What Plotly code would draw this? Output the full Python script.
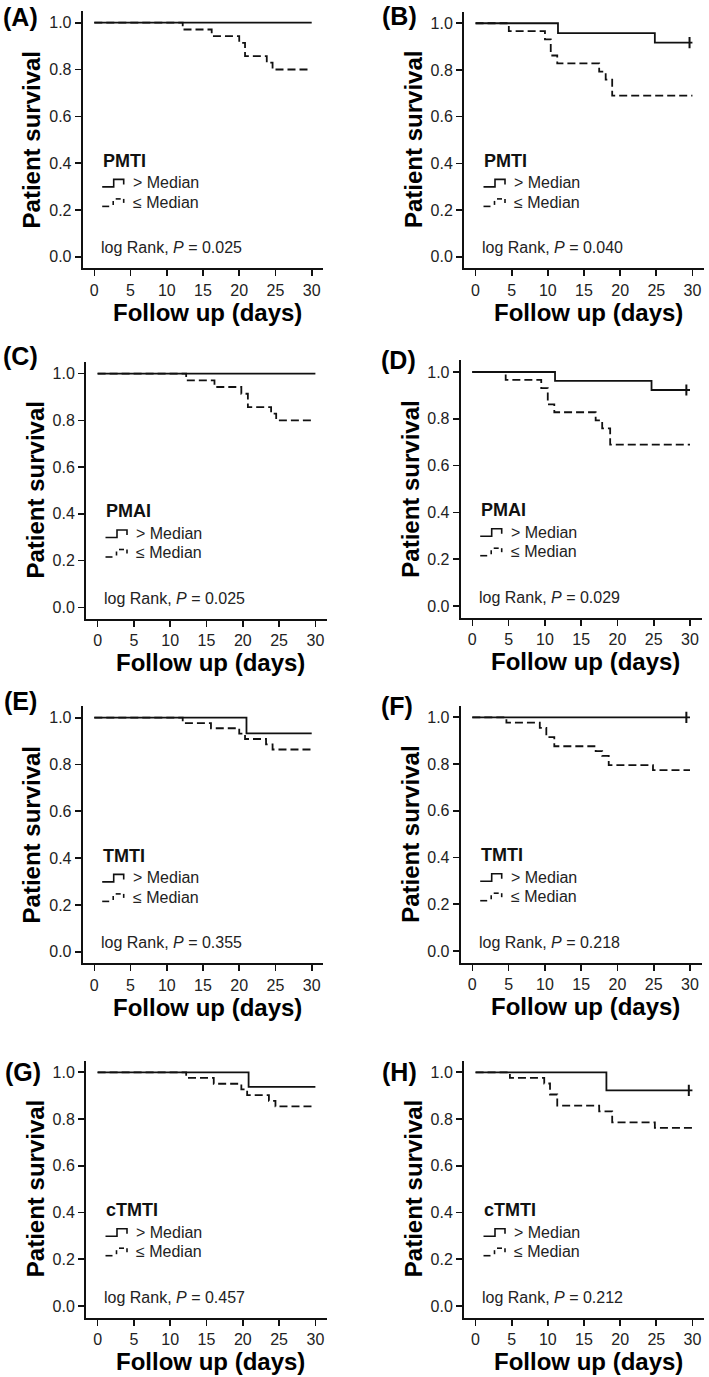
"""
Curvas de supervivencia Kaplan-Meier (8 paneles) con Plotly
"""

import plotly.graph_objects as go

W, H = 709, 1377
FONT = "Arial, Liberation Sans, Helvetica, sans-serif"

# ---- Datos (tiempo en días, supervivencia) ----
# (A) PMTI
a_high_t = [0, 30]
a_high_s = [1.0, 1.0]
a_low_t = [0, 12.2, 16.2, 20.0, 20.8, 23.8, 24.6, 29.7]
a_low_s = [1.0, 0.971, 0.943, 0.914, 0.857, 0.829, 0.800, 0.800]

# (B) PMTI
b_high_t = [0, 11.4, 24.8, 30]
b_high_s = [1.0, 0.958, 0.917, 0.917]
b_high_cens = [29.6]
b_low_t = [0, 4.6, 9.6, 10.4, 11.3, 17.1, 18.0, 18.9, 30]
b_low_s = [1.0, 0.966, 0.931, 0.862, 0.828, 0.793, 0.759, 0.690, 0.690]

# (C) PMAI
c_high_t = [0, 30]
c_high_s = [1.0, 1.0]
c_low_t = [0, 12.2, 16.1, 19.8, 20.7, 23.9, 24.6, 29.8]
c_low_s = [1.0, 0.971, 0.943, 0.914, 0.857, 0.829, 0.800, 0.800]

# (D) PMAI
d_high_t = [0, 11.4, 24.7, 30]
d_high_s = [1.0, 0.962, 0.923, 0.923]
d_high_cens = [29.5]
d_low_t = [0, 4.6, 9.5, 10.4, 11.3, 17.0, 17.9, 19.0, 30]
d_low_s = [1.0, 0.966, 0.931, 0.862, 0.828, 0.793, 0.759, 0.690, 0.690]

# (E) TMTI
e_high_t = [0, 21.0, 30]
e_high_s = [1.0, 0.933, 0.933]
e_low_t = [0, 12.2, 16.1, 20.0, 20.8, 23.7, 24.6, 30]
e_low_s = [1.0, 0.977, 0.955, 0.932, 0.909, 0.886, 0.864, 0.864]

# (F) TMTI
f_high_t = [0, 30]
f_high_s = [1.0, 1.0]
f_high_cens = [29.5]
f_low_t = [0, 4.7, 9.3, 10.2, 11.3, 17.0, 17.9, 18.8, 24.9, 30]
f_low_s = [1.0, 0.977, 0.955, 0.915, 0.876, 0.855, 0.835, 0.795, 0.774, 0.774]

# (G) cTMTI
g_high_t = [0, 20.8, 30]
g_high_s = [1.0, 0.938, 0.938]
g_low_t = [0, 12.2, 16.0, 19.8, 20.6, 23.6, 24.5, 30]
g_low_s = [1.0, 0.976, 0.951, 0.927, 0.902, 0.878, 0.854, 0.854]

# (H) cTMTI
h_high_t = [0, 18.1, 30]
h_high_s = [1.0, 0.923, 0.923]
h_high_cens = [29.5]
h_low_t = [0, 4.75, 9.5, 10.3, 11.3, 17.1, 18.9, 24.8, 30]
h_low_s = [1.0, 0.976, 0.952, 0.905, 0.857, 0.833, 0.786, 0.762, 0.762]

panel_labels = ["(A)", "(B)", "(C)", "(D)", "(E)", "(F)", "(G)", "(H)"]
group_names = ["PMTI", "PMTI", "PMAI", "PMAI", "TMTI", "TMTI", "cTMTI", "cTMTI"]
p_values = ["0.025", "0.040", "0.025", "0.029", "0.355", "0.218", "0.457", "0.212"]
x_ticks = [0, 5, 10, 15, 20, 25, 30]
y_ticks = [0.0, 0.2, 0.4, 0.6, 0.8, 1.0]
legend_labels = ["> Median", "\u2264 Median"]

series = [
    (a_high_t, a_high_s, [], a_low_t, a_low_s),
    (b_high_t, b_high_s, b_high_cens, b_low_t, b_low_s),
    (c_high_t, c_high_s, [], c_low_t, c_low_s),
    (d_high_t, d_high_s, d_high_cens, d_low_t, d_low_s),
    (e_high_t, e_high_s, [], e_low_t, e_low_s),
    (f_high_t, f_high_s, f_high_cens, f_low_t, f_low_s),
    (g_high_t, g_high_s, [], g_low_t, g_low_s),
    (h_high_t, h_high_s, h_high_cens, h_low_t, h_low_s),
]

# Marco de cada panel en píxeles: izquierda, derecha, arriba, abajo, etiqueta (x, y)
frames = [
    dict(L=82.7, R=323.3, T=11.0, B=268.4, lx=20.8, ly=17.0),
    dict(L=464.0, R=704.0, T=11.6, B=268.4, lx=399.0, ly=16.5),
    dict(L=86.0, R=327.0, T=362.0, B=619.0, lx=20.8, ly=355.7),
    dict(L=460.7, R=701.6, T=360.3, B=617.7, lx=398.0, ly=360.0),
    dict(L=82.7, R=323.3, T=706.0, B=963.4, lx=20.8, ly=700.7),
    dict(L=460.7, R=701.6, T=705.6, B=962.7, lx=397.3, ly=705.7),
    dict(L=86.0, R=327.0, T=1060.6, B=1317.7, lx=22.5, ly=1071.7),
    dict(L=464.0, R=704.0, T=1060.6, B=1317.7, lx=399.0, ly=1071.7),
]

XR = [-1.6, 31.6]
YR = [-0.05, 1.05]


def px(x):
    return x / W


def py(y):
    return 1 - y / H


fig = go.Figure()
layout = {}
annotations = []
shapes = []

line_kw = dict(type="path", xref="paper", yref="paper", line=dict(color="#111", width=1.6))

for i, (fr, (ht, hs, hc, lt, ls)) in enumerate(zip(frames, series)):
    n = i + 1
    xa = "x" if n == 1 else f"x{n}"
    ya = "y" if n == 1 else f"y{n}"

    # Curva <= mediana (discontinua)
    fig.add_trace(go.Scatter(
        x=lt, y=ls, xaxis=xa, yaxis=ya, mode="lines", line_shape="hv",
        line=dict(color="#111", width=1.8, dash="8px,4px"), showlegend=False
    ))
    # Curva > mediana (continua)
    fig.add_trace(go.Scatter(
        x=ht, y=hs, xaxis=xa, yaxis=ya, mode="lines", line_shape="hv",
        line=dict(color="#111", width=1.8), showlegend=False
    ))
    # Censuras
    if hc:
        fig.add_trace(go.Scatter(
            x=hc, y=[hs[-1]] * len(hc), xaxis=xa, yaxis=ya, mode="markers",
            marker=dict(symbol="line-ns", size=8, line=dict(color="#111", width=2)),
            showlegend=False
        ))

    axis_common = dict(
        showline=True, linecolor="#111", linewidth=2, ticks="outside",
        ticklen=6, tickwidth=1.6, tickcolor="#111", showgrid=False, zeroline=False,
        tickfont=dict(family=FONT, size=16, color="#222"), fixedrange=True
    )
    layout[f"xaxis{'' if n == 1 else n}"] = dict(
        axis_common, domain=[px(fr["L"]), px(fr["R"])], range=XR,
        tickvals=x_ticks, anchor=ya
    )
    layout[f"yaxis{'' if n == 1 else n}"] = dict(
        axis_common, domain=[py(fr["B"]), py(fr["T"])], range=YR,
        tickvals=y_ticks, ticktext=[f"{v:.1f}" for v in y_ticks], anchor=xa
    )

    L, B, T = fr["L"], fr["B"], fr["T"]

    # Etiqueta del panel
    annotations.append(dict(
        x=px(fr["lx"]), y=py(fr["ly"]), xref="paper", yref="paper",
        text=f"<b>{panel_labels[i]}</b>", showarrow=False,
        font=dict(family=FONT, size=25, color="#000"), xanchor="center", yanchor="middle"
    ))
    # Títulos de ejes
    annotations.append(dict(
        x=px(L + 124.5), y=py(B + 44), xref="paper", yref="paper",
        text="<b>Follow up (days)</b>", showarrow=False,
        font=dict(family=FONT, size=24, color="#000"), xanchor="center", yanchor="middle"
    ))
    annotations.append(dict(
        x=px(L - 51), y=py((T + B) / 2), xref="paper", yref="paper",
        text="<b>Patient survival</b>", showarrow=False, textangle=-90,
        font=dict(family=FONT, size=24, color="#000"), xanchor="center", yanchor="middle"
    ))
    # Leyenda interna
    annotations.append(dict(
        x=px(L + 18), y=py(B - 107.5), xref="paper", yref="paper",
        text=f"<b>{group_names[i]}</b>", showarrow=False,
        font=dict(family=FONT, size=18, color="#111"), xanchor="left", yanchor="middle"
    ))
    for k, lab in enumerate(legend_labels):
        annotations.append(dict(
            x=px(L + 48), y=py(B - 85.5 + 19.5 * k), xref="paper", yref="paper",
            text=lab, showarrow=False,
            font=dict(family=FONT, size=16, color="#222"), xanchor="left", yanchor="middle"
        ))
    annotations.append(dict(
        x=px(L + 16), y=py(B - 20.5), xref="paper", yref="paper",
        text=f"log Rank, <i>P</i> = {p_values[i]}", showarrow=False,
        font=dict(family=FONT, size=16, color="#222"), xanchor="left", yanchor="middle"
    ))

    # Glifos de la leyenda
    gx, gy = L + 19.5, B - 85.5
    pts = [(0, 4), (11.5, 4), (11.5, -3.5), (21.5, -3.5), (21.5, 1.5)]
    path = "M " + " L ".join(f"{px(gx + a)} {py(gy + b)}" for a, b in pts)
    shapes.append(dict(line_kw, path=path))
    gy2 = B - 66
    segs = [[(0, 4), (7, 4)], [(11, 2.5), (11, -1.5)], [(13.5, -3.5), (18.5, -3.5)],
            [(21.5, -3.5), (21.5, 0.5)]]
    for seg in segs:
        path = "M " + " L ".join(f"{px(gx + a)} {py(gy2 + b)}" for a, b in seg)
        shapes.append(dict(line_kw, path=path))

fig.update_layout(
    width=W, height=H,
    margin=dict(l=0, r=0, t=0, b=0),
    plot_bgcolor="white", paper_bgcolor="white",
    showlegend=False,
    annotations=annotations,
    shapes=shapes,
    **layout
)

# Quitar el margen por defecto del <body> para que la figura ocupe la ventana
fig.write_html(
    "out.html",
    config={"displayModeBar": False, "staticPlot": True},
    post_script="document.body.style.margin='0px';"
)
